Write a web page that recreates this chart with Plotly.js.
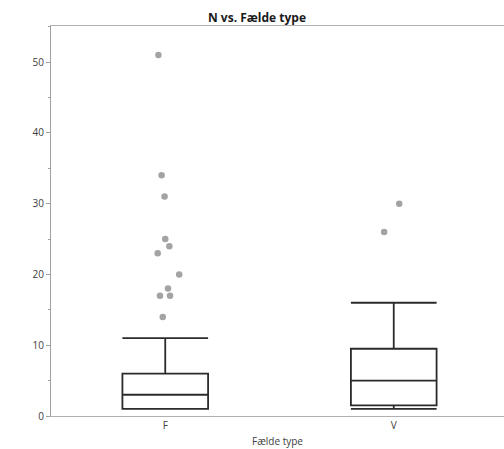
<!DOCTYPE html>
<html>
<head>
<meta charset="utf-8">
<script src="https://cdn.plot.ly/plotly-3.0.1.min.js"></script>
<style>
  html, body { margin: 0; padding: 0; overflow: hidden; background: #fff; }
  #chart { width: 504px; height: 449px; }
</style>
</head>
<body>
<div id="chart"></div>
<script>
// Trap types and their summary statistics for N
const categories = ['F', 'V'];
const q1Values = [1, 1.5];
const medianValues = [3, 5];
const q3Values = [6, 9.5];
const lowerWhisker = [1, 1];
const upperWhisker = [11, 16];

// Outlying observations per trap type
const outliersF = [51, 34, 31, 25, 24, 23, 20, 18, 17, 17, 14];
const outliersV = [30, 26];

// Small horizontal spread so overlapping outlier dots stay visible
const jitterF = [-0.030, -0.016, -0.003, 0.000, 0.018, -0.033, 0.061, 0.012, -0.023, 0.021, -0.011];
const jitterV = [0.024, -0.042];

const catPos = categories.map((c, i) => i);

const boxTrace = {
  type: 'box',
  x: catPos,
  q1: q1Values,
  median: medianValues,
  q3: q3Values,
  lowerfence: lowerWhisker,
  upperfence: upperWhisker,
  width: 0.375,
  whiskerwidth: 1,
  boxpoints: false,
  fillcolor: 'rgba(0,0,0,0)',
  line: { color: '#2b2b2b', width: 1.8 },
  hoverinfo: 'skip',
  showlegend: false
};

const outX = outliersF.map((v, i) => catPos[0] + jitterF[i])
  .concat(outliersV.map((v, i) => catPos[1] + jitterV[i]));
const outY = outliersF.concat(outliersV);

const outlierTrace = {
  type: 'scatter',
  mode: 'markers',
  x: outX,
  y: outY,
  marker: { color: '#a3a3a3', size: 6.5, line: { width: 0 } },
  hoverinfo: 'skip',
  showlegend: false
};

const fontFam = '"Open Sans", "Noto Sans", sans-serif';

// the plotting area runs a few pixels past the right edge of the page
const plotW = 504 - 51;
const unitPx = 228.5;
const yTop = 55.1;

// upright "N" label to the left of the y axis, drawn as text outside the plot area
const yLabelTrace = {
  type: 'scatter',
  mode: 'text',
  x: [-0.5 - 39 / unitPx],
  y: [yTop * (416 - 222) / 390],
  text: ['N'],
  textposition: 'middle center',
  textfont: { family: fontFam, size: 10, color: '#404040' },
  cliponaxis: false,
  hoverinfo: 'skip',
  showlegend: false
};

const layout = {
  width: 504,
  height: 449,
  margin: { l: 51, r: 0, t: 26, b: 33 },
  paper_bgcolor: '#fff',
  plot_bgcolor: '#fff',
  font: { family: fontFam, size: 10, color: '#404040' },
  title: {
    text: '<b>N vs. Fælde type</b>',
    font: { family: fontFam, size: 12, color: '#1a1a1a' },
    xref: 'container', x: 257 / 504, xanchor: 'center',
    yref: 'container', y: 1 - 18 / 449, yanchor: 'middle'
  },
  xaxis: {
    range: [-0.5, -0.5 + plotW / unitPx],
    tickvals: catPos,
    ticktext: categories,
    ticks: '',
    showgrid: false,
    zeroline: false,
    showline: true,
    mirror: true,
    linecolor: '#b0b0b0',
    linewidth: 1,
    tickfont: { size: 10, color: '#404040' },
    title: { text: 'Fælde type', font: { size: 10, color: '#404040' }, standoff: 6 }
  },
  yaxis: {
    range: [0, yTop],
    tickvals: [0, 10, 20, 30, 40, 50],
    ticks: 'outside',
    ticklen: 4,
    tickwidth: 1,
    tickcolor: '#a0a0a0',
    minor: { tickvals: [5, 15, 25, 35, 45, 55], ticks: 'outside', ticklen: 2, tickcolor: '#a0a0a0' },
    showgrid: false,
    zeroline: false,
    showline: true,
    linecolor: '#a0a0a0',
    linewidth: 1,
    tickfont: { size: 10, color: '#404040' }
  }
};

Plotly.newPlot('chart', [boxTrace, outlierTrace, yLabelTrace], layout, { displayModeBar: false, staticPlot: true });
</script>
</body>
</html>
